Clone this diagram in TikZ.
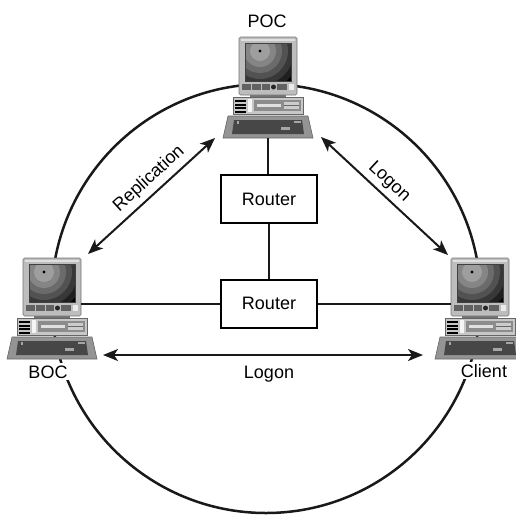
\documentclass[tikz,border=0pt]{standalone}
\usepackage{fontspec}
\setmainfont{Liberation Sans}
\usetikzlibrary{arrows.meta}
\begin{document}
\begin{tikzpicture}[x=1pt,y=-1pt,
  txt/.style={font=\fontsize{18}{20}\selectfont, inner sep=0pt},
  tag/.style={txt, fill=white, inner sep=2pt},
  ring/.style={line width=2.5pt, black!90},
  wire/.style={line width=2.2pt, black!90},
  link/.style={line width=2pt, black!90,
    {Stealth[length=15pt,width=12pt,inset=4pt]}-{Stealth[length=15pt,width=12pt,inset=4pt]}},
  routerbox/.style={draw, line width=2pt, fill=white, minimum width=96pt,
    minimum height=48pt, font=\fontsize{18}{20}\selectfont, inner sep=0pt},
  computer/.pic={
    % monitor neck
    \fill[black!55] (-18,56) rectangle (18,61);
    % monitor cabinet
    \draw[black!55, line width=0.6pt, fill=black!26, rounded corners=1.5pt]
      (-29,0) rectangle (29,58);
    \fill[black!12] (-27,1.5) rectangle (27,4);
    % screen with concentric rings
    \begin{scope}
      \clip (-23,6) rectangle (23,44);
      \fill[black] (-23,6) rectangle (23,44);
      \foreach \r/\s in {40/88, 34/78, 28/68, 22/58, 16/48, 10/38}
        {\fill[black!\s] (-8,14) circle (\r);}
      \fill[black] (-8,14) circle (1.6);
    \end{scope}
    \draw[black!75, line width=0.8pt] (-23,6) rectangle (23,44);
    % control strip
    \foreach \a/\b in {-26/-17, -16/-7, -6/2, 9/19}
      {\fill[black!62] (\a,47) rectangle (\b,53);}
    \fill[black!85] (5.5,50) circle (2.5);
    \fill[black!8] (21,47) rectangle (26,53);
    % system unit
    \draw[black!60, line width=0.6pt, fill=black!22] (-35,60) rectangle (35,77);
    \foreach \yy in {63,66.5,70,73.5}
      {\fill[black] (-33,\yy) rectangle (-22,\yy+2);}
    \fill[black!4] (-20,62) rectangle (-16,75);
    \fill[black!45] (-14,63) rectangle (33,74);
    \fill[black!12] (-11,66.5) rectangle (13,69.5);
    \fill[black!20] (16,64.5) rectangle (31,72);
    \fill[black!60] (16,67.5) rectangle (31,68.5);
    % keyboard
    \draw[black!60, line width=0.6pt, fill=black!42]
      (-40,79) -- (40,79) -- (45,101) -- (-45,101) -- cycle;
    \fill[black!72] (-34,83) -- (34,83) -- (36,97) -- (-36,97) -- cycle;
    \fill[black!35] (13,90) rectangle (22,93);
    \fill[black!35] (26,84) rectangle (33,86);
    \fill[black!35] (-31,84) rectangle (-29,87);
    % attachment points
    \coordinate (-base) at (0,101);
    \coordinate (-left) at (-29,46);
    \coordinate (-right) at (29,46);
  }
]
\useasboundingbox (0,0) rectangle (516,515);

% ring connecting the three machines
\draw[ring] (266,298.5) circle (214.5);

% routers
\node[routerbox] (r1) at (269,199) {Router};
\node[routerbox] (r2) at (269,303.5) {Router};

% machines
\pic (poc) at (268,37) {computer};
\pic (boc) at (52,258) {computer};
\pic (client) at (480,258) {computer};

% wired links through the routers
\draw[wire] (poc-base) -- (poc-base |- r1.north);
\draw[wire] (r1.south) -- (r2.north);
\draw[wire] (boc-right) -- (r2.west |- boc-right);
\draw[wire] (r2.east |- client-left) -- (client-left);

% traffic arrows
\coordinate (replA) at (88,254);
\coordinate (replB) at (215,138);
\coordinate (logA) at (321,137);
\coordinate (logB) at (448,255);
\coordinate (botA) at (103,355);
\coordinate (botB) at (423,355);
\draw[link] (replA) -- (replB);
\draw[link] (logA) -- (logB);
\draw[link] (botA) -- (botB);

% labels
\node[txt, rotate=42.4] (lrepl) at (149,179) {Replication};
\node[txt, rotate=-43] (llog) at (389,182) {Logon};
\node[txt, anchor=base] (lbot) at (269,378) {Logon};
\node[txt, anchor=base] (lpoc) at (267,27) {POC};
\node[tag, anchor=base] (lboc) at (48,378) {BOC};
\node[tag, anchor=base] (lcli) at (484,377) {Client};
\end{tikzpicture}
\end{document}
